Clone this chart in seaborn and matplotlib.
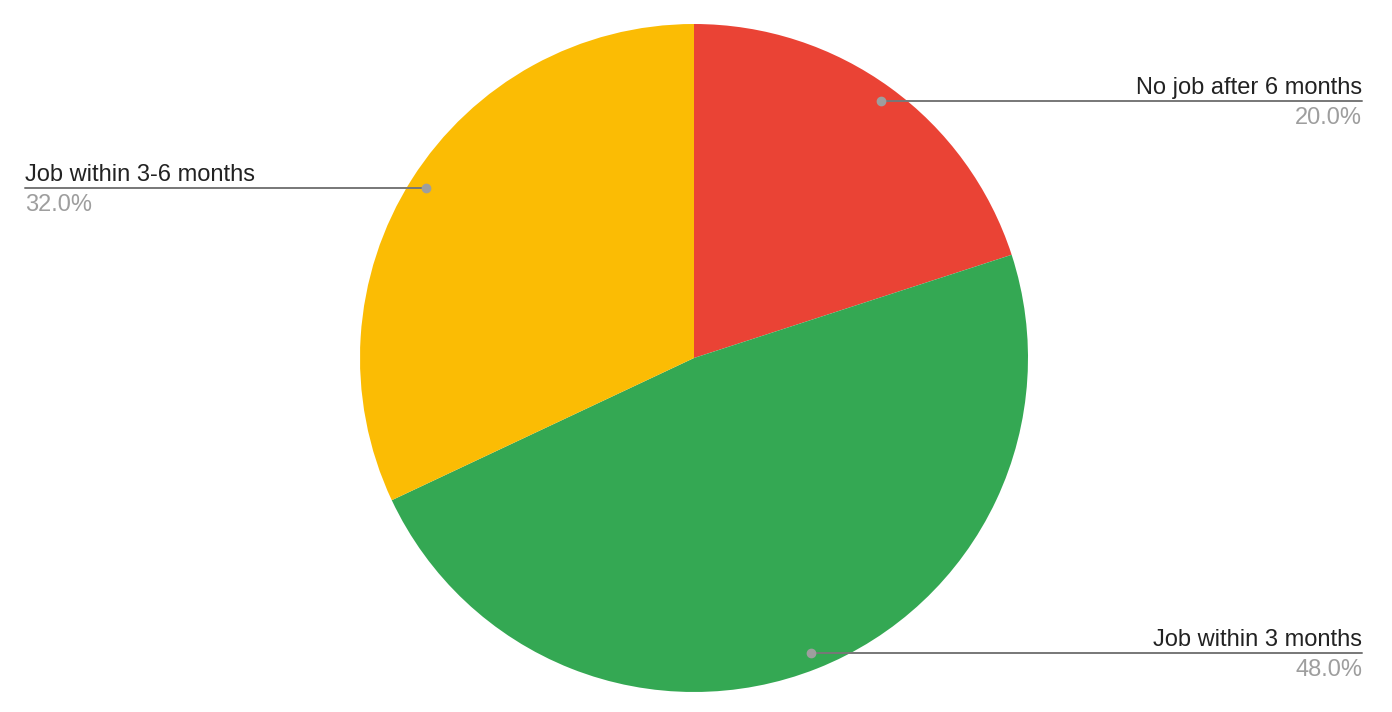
import numpy as np
import matplotlib
matplotlib.use("Agg")
import matplotlib.pyplot as plt
import seaborn as sns

categories = ["No job after 6 months", "Job within 3 months", "Job within 3-6 months"]
values = [20.0, 48.0, 32.0]
colors = ["#EA4335", "#34A853", "#FBBC04"]

sns.set_theme(style="white")
plt.rcParams['font.family'] = ['Liberation Sans', 'DejaVu Sans']

W, H = 1392, 712
fig = plt.figure(figsize=(W / 100, H / 100), dpi=100)
ax = fig.add_axes([0, 0, 1, 1])
cx, cy, R = 694, H - 358, 334
wedges, _ = ax.pie(values, colors=colors, startangle=90, counterclock=False,
                   center=(cx, cy), radius=R, wedgeprops=dict(linewidth=0))
ax.set_xlim(0, W)
ax.set_ylim(0, H)
ax.set_aspect('equal')
ax.axis('off')

total = sum(values)
for w, name, v in zip(wedges, categories, values):
    mid = np.deg2rad((w.theta1 + w.theta2) / 2)
    dx, dy = cx + 0.95 * R * np.cos(mid), cy + 0.95 * R * np.sin(mid)
    if np.cos(mid) >= 0:
        xend, ha = 1362, 'right'
    else:
        xend, ha = 25, 'left'
    ax.plot([dx, xend], [dy, dy], color="#777777", lw=1.4, zorder=3)
    ax.plot([dx], [dy], 'o', color="#9e9e9e", ms=6, zorder=4)
    ax.text(xend, dy + 2, name, ha=ha, va='bottom', fontsize=17, color="#222222")
    ax.text(xend, dy - 6, f"{v / total * 100:.1f}%", ha=ha, va='top', fontsize=17, color="#9e9e9e")

fig.savefig("out.png", dpi=100)
